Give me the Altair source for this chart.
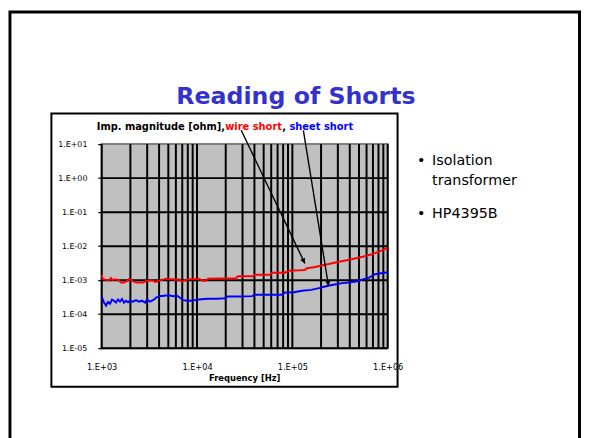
import altair as alt
import pandas as pd

# ---------------- data ----------------
red_freq = [1000, 1030, 1110, 1190, 1250, 1290, 1400, 1520, 1590, 1710,
            1800, 1930, 2080, 2290, 2520, 2710, 2920, 3130, 3370, 3700,
            3990, 4290, 4730, 5080, 5600, 6020, 6470, 6960, 7660, 8240,
            9300, 10500, 11300, 12100, 13100, 16900, 25600, 26800, 38600, 40600,
            58100, 60900, 83800, 92000, 117000, 135000, 142000, 168000, 204000, 254000,
            310000, 395000, 467000, 560000, 680000, 800000, 890000, 1000000]
red_imp = [1.43e-3, 1.07e-3, 1.02e-3, 0.98e-3, 1.15e-3, 1.02e-3, 1.07e-3, 0.975e-3, 0.85e-3, 0.85e-3,
           0.91e-3, 1.07e-3, 0.975e-3, 0.85e-3, 0.85e-3, 0.85e-3, 0.94e-3, 0.975e-3, 0.975e-3, 0.89e-3,
           0.975e-3, 1.02e-3, 1.11e-3, 1.07e-3, 1.07e-3, 1.02e-3, 1.07e-3, 0.91e-3, 1.02e-3, 1.07e-3,
           1.07e-3, 1.1e-3, 0.975e-3, 0.95e-3, 1.1e-3, 1.12e-3, 1.13e-3, 1.3e-3, 1.3e-3, 1.45e-3,
           1.45e-3, 1.66e-3, 1.66e-3, 1.9e-3, 1.95e-3, 2.0e-3, 2.25e-3, 2.4e-3, 2.7e-3, 3.1e-3,
           3.5e-3, 4.0e-3, 4.4e-3, 5.0e-3, 5.8e-3, 6.8e-3, 7.8e-3, 9.0e-3]

blue_freq = [1000, 1057, 1110, 1164, 1222, 1283, 1346, 1413, 1483, 1556,
             1633, 1714, 1799, 1888, 1982, 2130, 2290, 2463, 2648, 2847,
             2988, 3212, 3372, 3538, 3714, 3993, 4505, 5084, 5601, 6169,
             6633, 7130, 7855, 8680, 9520, 10500, 11800, 13200, 16200, 19700,
             20600, 27600, 37800, 40600, 78000, 83800, 104000, 126000, 157000, 191000,
             215000, 243000, 287000, 332000, 393000, 466000, 539000, 638000, 738000, 853000,
             1000000]
blue_imp = [3.3e-4, 2.2e-4, 1.8e-4, 2.3e-4, 2.05e-4, 2.7e-4, 2.5e-4, 2.2e-4, 2.7e-4, 2.35e-4,
            2.8e-4, 2.2e-4, 2.5e-4, 2.25e-4, 2.5e-4, 2.35e-4, 2.6e-4, 2.35e-4, 2.5e-4, 2.2e-4,
            2.7e-4, 2.35e-4, 2.5e-4, 2.7e-4, 3.05e-4, 3.4e-4, 3.5e-4, 3.6e-4, 3.4e-4, 3.5e-4,
            3.05e-4, 2.6e-4, 2.5e-4, 2.5e-4, 2.6e-4, 2.7e-4, 2.8e-4, 2.85e-4, 2.85e-4, 2.95e-4,
            3.3e-4, 3.3e-4, 3.4e-4, 3.75e-4, 3.75e-4, 4.35e-4, 4.4e-4, 4.9e-4, 5.2e-4, 5.85e-4,
            6.4e-4, 7.0e-4, 7.6e-4, 8.2e-4, 8.6e-4, 9.1e-4, 1.04e-3, 1.19e-3, 1.5e-3, 1.6e-3,
            1.72e-3]

x_grid = [1e3, 2e3, 3e3, 4e3, 5e3, 6e3, 7e3, 8e3, 9e3,
          1e4, 2e4, 3e4, 4e4, 5e4, 6e4, 7e4, 8e4, 9e4,
          1e5, 2e5, 3e5, 4e5, 5e5, 6e5, 7e5, 8e5, 9e5, 1e6]
y_grid = [1e-5, 1e-4, 1e-3, 1e-2, 1e-1, 1e0]

x_tick_values = [1e3, 1e4, 1e5, 1e6]
x_tick_labels = ["1.E+03", "1.E+04", "1.E+05", "1.E+06"]
y_tick_values = [1e-5, 1e-4, 1e-3, 1e-2, 1e-1, 1e0, 1e1]
y_tick_labels = ["1.E-05", "1.E-04", "1.E-03", "1.E-02", "1.E-01", "1.E+00", "1.E+01"]

slide_title = "Reading of Shorts"
header_parts = ["Imp. magnitude [ohm],", "wire short", ", ", "sheet short"]
header_colors = ["#000000", "#FF0000", "#000000", "#0000FF"]
x_title = "Frequency [Hz]"
bullets = ["Isolation", "transformer", "HP4395B"]


def label_expr(vals, labels):
    parts = [f"abs(datum.value - {v!r}) < {v * 1e-3!r} ? '{l}' :" for v, l in zip(vals, labels)]
    return " ".join(parts) + " ''"


FONT = "DejaVu Sans"
W, H = 290, 207

xscale = alt.Scale(type="log", domain=[1e3, 1e6], nice=False)
yscale = alt.Scale(type="log", domain=[1e-5, 1e1], nice=False)
xaxis = alt.Axis(values=x_tick_values, labelExpr=label_expr(x_tick_values, x_tick_labels),
                 ticks=False, domain=False, grid=False, labelPadding=15,
                 labelFont=FONT, labelFontSize=8.3, labelColor="black", labelFlush=False)
yaxis = alt.Axis(values=y_tick_values, labelExpr=label_expr(y_tick_values, y_tick_labels),
                 ticks=True, tickSize=4, tickColor="black", tickWidth=1.2, domain=False,
                 grid=False, labelPadding=11, labelFont=FONT, labelFontSize=8,
                 labelColor="black", labelFlush=False)

series = pd.concat([
    pd.DataFrame({"freq": red_freq, "imp": red_imp, "series": "wire short"}),
    pd.DataFrame({"freq": blue_freq, "imp": blue_imp, "series": "sheet short"}),
])

xgrid_df = pd.DataFrame({"freq": x_grid})
ygrid_df = pd.DataFrame({"imp": y_grid})
one = pd.DataFrame({"k": [0]})

xgrid = alt.Chart(xgrid_df).mark_rule(color="black", strokeWidth=2).encode(
    x=alt.X("freq:Q", scale=xscale, axis=xaxis, title=None))
ygrid = alt.Chart(ygrid_df).mark_rule(color="black", strokeWidth=2).encode(
    y=alt.Y("imp:Q", scale=yscale, axis=yaxis, title=None))

lines = alt.Chart(series).mark_line(strokeWidth=2).encode(
    x=alt.X("freq:Q", scale=xscale, axis=xaxis, title=None),
    y=alt.Y("imp:Q", scale=yscale, axis=yaxis, title=None),
    color=alt.Color("series:N", scale=alt.Scale(domain=["wire short", "sheet short"],
                                                 range=["#FF0000", "#0000FF"]), legend=None),
    detail="series:N",
)

# ---- decorations (pixel positions relative to the plot area origin) ----
slide_frame = alt.Chart(one).mark_rect(fillOpacity=0, stroke="black", strokeWidth=3).encode(
    x=alt.value(-93), x2=alt.value(484.5), y=alt.value(-134), y2=alt.value(320))
chart_frame = alt.Chart(one).mark_rect(fillOpacity=0, stroke="black", strokeWidth=2).encode(
    x=alt.value(-51), x2=alt.value(300), y=alt.value(-31), y2=alt.value(246))

title = alt.Chart(one).mark_text(font=FONT, fontSize=24, fontWeight="bold", color="#3333CC",
                                 align="center", baseline="middle").encode(
    x=alt.value(197), y=alt.value(-48), text=alt.value(slide_title))

header_x = [-5, 125.3, 183.0, 190.4]
header_layers = [
    alt.Chart(one).mark_text(font=FONT, fontSize=10, fontWeight="bold", color=c,
                             align="left", baseline="alphabetic").encode(
        x=alt.value(hx), y=alt.value(-14), text=alt.value(t))
    for t, c, hx in zip(header_parts, header_colors, header_x)
]

xtitle = alt.Chart(one).mark_text(font=FONT, fontSize=8.5, fontWeight="bold", color="black",
                                  align="center", baseline="middle").encode(
    x=alt.value(W / 2), y=alt.value(237.5), text=alt.value(x_title))

bullet_y = [17, 37, 71]
bullet_layers = [
    alt.Chart(one).mark_text(font=FONT, fontSize=14.5, color="black",
                             align="left", baseline="middle").encode(
        x=alt.value(335), y=alt.value(by), text=alt.value(t))
    for t, by in zip(bullets, bullet_y)
]
bullet_dots = [
    alt.Chart(one).mark_text(font=FONT, fontSize=14.5, color="black",
                             align="center", baseline="middle").encode(
        x=alt.value(324), y=alt.value(by), text=alt.value("•"))
    for by in [bullet_y[0], bullet_y[2]]
]

arrow1 = alt.Chart(one).mark_rule(color="black", strokeWidth=1.4).encode(
    x=alt.value(141.5), y=alt.value(-14), x2=alt.value(206), y2=alt.value(121))
arrow2 = alt.Chart(one).mark_rule(color="black", strokeWidth=1.4).encode(
    x=alt.value(204.5), y=alt.value(-14), x2=alt.value(230), y2=alt.value(144))
head1 = alt.Chart(one).mark_point(shape="triangle-up", filled=True, size=30, color="black",
                                  opacity=1, angle=154.5).encode(
    x=alt.value(204.8), y=alt.value(118.6))
head2 = alt.Chart(one).mark_point(shape="triangle-up", filled=True, size=30, color="black",
                                  opacity=1, angle=170.8).encode(
    x=alt.value(229.6), y=alt.value(141.3))

chart = alt.layer(
    xgrid, ygrid, lines, arrow1, arrow2, head1, head2,
    slide_frame, chart_frame, title, *header_layers, xtitle, *bullet_layers, *bullet_dots,
).properties(
    width=W, height=H,
    autosize=alt.AutoSizeParams(type="none"),
    padding={"left": 95, "top": 135, "right": 196, "bottom": 88},
    background="white",
).configure_view(
    fill="#C0C0C0", stroke="#808080", strokeWidth=2,
)

chart.save("out.html", embed_options={"renderer": "svg", "actions": False})
